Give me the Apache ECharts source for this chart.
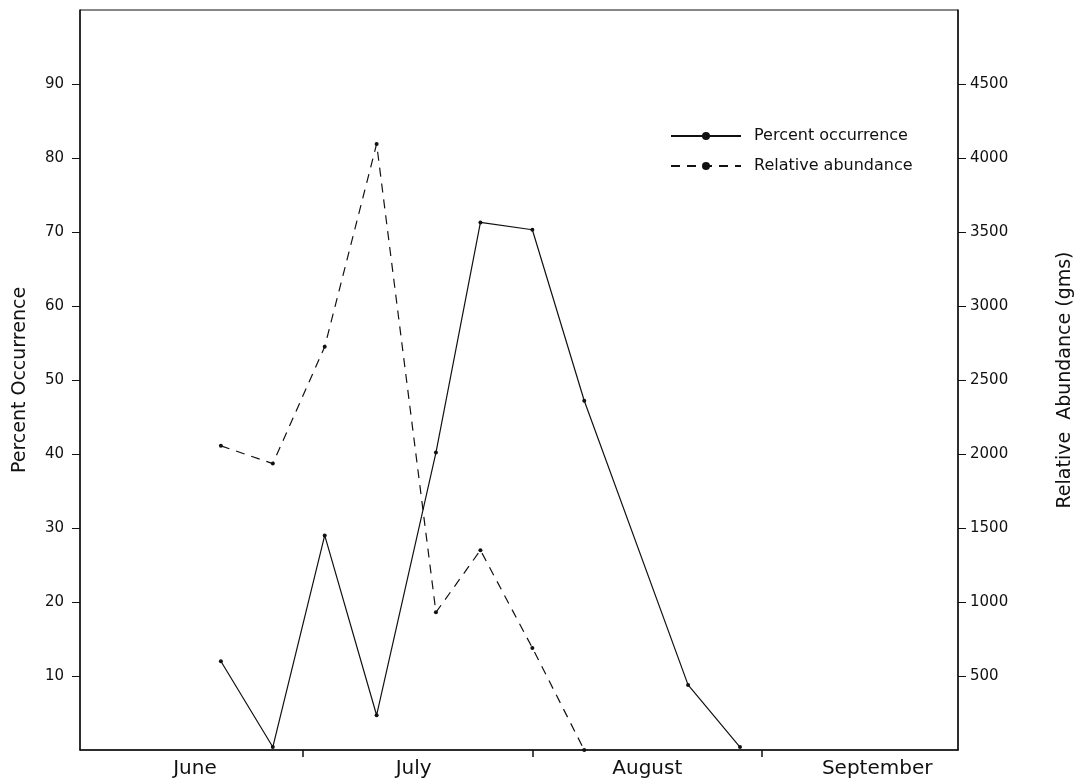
<!DOCTYPE html>
<html>
<head>
<meta charset="utf-8">
<script src="https://cdn.jsdelivr.net/npm/echarts@6/dist/echarts.min.js"></script>
<style>
  html, body { margin: 0; padding: 0; background: #fff; }
  #chart { width: 1086px; height: 782px; }
</style>
</head>
<body>
<div id="chart"></div>
<script>
// Sampling dates, as day of season (day 0 = 1 June)
const sampleDays = [19, 26, 33, 40, 48, 54, 61, 68, 82, 89];
// Percent occurrence at each sample
const percentOccurrence = [12, 0.4, 29, 4.7, 40.2, 71.3, 70.3, 47.2, 8.8, 0.4];
// Relative abundance (gms), sampled until the catch fell to zero
const abundanceDays = [19, 26, 33, 40, 48, 54, 61, 68];
const relativeAbundance = [2055, 1935, 2725, 4095, 930, 1350, 690, 0];

// Month boundaries (day of season) and where each month name sits
const monthBoundaries = [30, 61, 92];
const monthNames = ['June', 'July', 'August', 'September'];
const monthLabelDays = [15.5, 45, 76.5, 107.5];

const leftTicks = [10, 20, 30, 40, 50, 60, 70, 80, 90];
const rightTicks = [500, 1000, 1500, 2000, 2500, 3000, 3500, 4000, 4500];

const FONT = 'DejaVu Sans';
const INK = '#111';

const chart = echarts.init(document.getElementById('chart'));
chart.setOption({
  animation: false,
  backgroundColor: '#fff',
  textStyle: { fontFamily: FONT, color: INK },
  grid: {
    left: 80, right: 128, top: 10, bottom: 32,
    outerBoundsMode: 'none',
    show: true, borderColor: INK, borderWidth: 1
  },
  legend: {
    orient: 'vertical',
    left: 665, top: 123,
    itemWidth: 70, itemHeight: 10, itemGap: 14,
    textStyle: { fontFamily: FONT, fontSize: 16, color: INK, padding: [0, 0, 0, 8] },
    data: ['Percent occurrence', 'Relative abundance']
  },
  xAxis: {
    type: 'value',
    min: 0, max: 118.4,
    splitLine: { show: false },
    axisLine: { lineStyle: { color: INK, width: 1.5 } },
    axisTick: {
      customValues: monthBoundaries,
      length: 7,
      lineStyle: { color: INK, width: 1.5 }
    },
    axisLabel: {
      customValues: monthLabelDays,
      formatter: function (v) {
        const i = monthLabelDays.indexOf(v);
        return i >= 0 ? monthNames[i] : '';
      },
      fontFamily: FONT, fontSize: 20, color: INK, margin: 9
    }
  },
  yAxis: [
    {
      type: 'value',
      min: 0, max: 100, interval: 10,
      name: 'Percent Occurrence',
      nameLocation: 'middle', nameRotate: 90, nameGap: 50,
      nameTextStyle: { fontFamily: FONT, fontSize: 19, color: INK },
      splitLine: { show: false },
      axisLine: { show: true, lineStyle: { color: INK, width: 1.5 } },
      axisTick: { customValues: leftTicks, length: 8, lineStyle: { color: INK } },
      axisLabel: {
        customValues: leftTicks,
        fontFamily: FONT, fontSize: 15, color: INK, margin: 16
      }
    },
    {
      type: 'value',
      min: 0, max: 5000, interval: 500,
      position: 'right',
      name: 'Relative  Abundance (gms)',
      nameLocation: 'middle', nameRotate: 90, nameGap: 98,
      nameTextStyle: { fontFamily: FONT, fontSize: 19, color: INK },
      splitLine: { show: false },
      axisLine: { show: true, lineStyle: { color: INK, width: 1.5 } },
      axisTick: { customValues: rightTicks, length: 8, lineStyle: { color: INK } },
      axisLabel: {
        customValues: rightTicks,
        formatter: function (v) { return String(v); },
        fontFamily: FONT, fontSize: 15, color: INK, margin: 12
      }
    }
  ],
  series: [
    {
      name: 'Percent occurrence',
      type: 'line',
      yAxisIndex: 0,
      data: sampleDays.map((d, i) => [d, percentOccurrence[i]]),
      symbol: 'circle', symbolSize: 4, showSymbol: true,
      itemStyle: { color: INK },
      lineStyle: { color: INK, width: 1.2, type: 'solid' }
    },
    {
      name: 'Relative abundance',
      type: 'line',
      yAxisIndex: 1,
      data: abundanceDays.map((d, i) => [d, relativeAbundance[i]]),
      symbol: 'circle', symbolSize: 4, showSymbol: true,
      itemStyle: { color: INK },
      lineStyle: { color: INK, width: 1.2, type: [9, 7] }
    }
  ]
});
</script>
</body>
</html>
